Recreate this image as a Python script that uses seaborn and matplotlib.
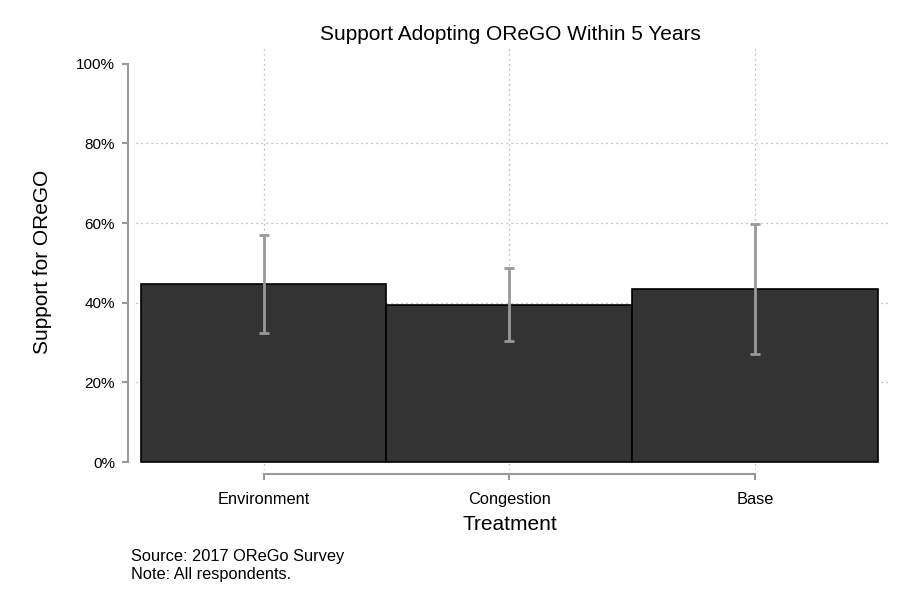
import numpy as np
import pandas as pd
import matplotlib
matplotlib.use('Agg')
import matplotlib.pyplot as plt
import seaborn as sns

treatments = ['Environment', 'Congestion', 'Base']
support = [44.7, 39.4, 43.5]
ci_low = [32.4, 30.4, 27.1]
ci_high = [57.0, 48.7, 59.8]
yticks = [0, 20, 40, 60, 80, 100]

sns.set_theme(style='white')
plt.rcParams['font.family'] = ['Liberation Sans', 'DejaVu Sans']
plt.rcParams['text.color'] = 'black'

df = pd.DataFrame({'Treatment': treatments, 'Support': support})

fig = plt.figure(figsize=(9.16, 6.10), dpi=100)
ax = fig.add_axes([0.1485, 0.2295, 0.823, 0.692])

# gridlines (no line at 0 / 100, like the original)
for y in yticks[1:-1]:
    ax.axhline(y, color='#aaaaaa', lw=0.9, ls=(0, (1, 3)), zorder=0)
for x in range(len(treatments)):
    ax.axvline(x, color='#aaaaaa', lw=0.9, ls=(0, (1, 3)), zorder=0)

sns.barplot(data=df, x='Treatment', y='Support', color='#333333', width=1.0,
            saturation=1, edgecolor='black', linewidth=1.2, errorbar=None, ax=ax, zorder=2)

err = np.array([np.array(support) - np.array(ci_low), np.array(ci_high) - np.array(support)])
ax.errorbar(range(len(treatments)), support, yerr=err, fmt='none', ecolor='#999999',
            elinewidth=2, capsize=3.5, capthick=2, zorder=3)

ax.set_xlim(-0.52, 2.55)
ax.set_ylim(-2, 104)
ax.set_yticks(yticks)
ax.set_yticklabels([f'{t}%' for t in yticks], fontsize=11.8)
ax.tick_params(axis='x', labelsize=11.8, pad=8.5)
ax.tick_params(axis='y', pad=5)
ax.tick_params(axis='both', colors='#999999', labelcolor='black', length=4, width=1.5, left=True, bottom=True)

for s in ['top', 'right']:
    ax.spines[s].set_visible(False)
ax.spines['left'].set_position(('outward', 6))
ax.spines['left'].set_bounds(0, 100)
ax.spines['bottom'].set_position(('outward', 3))
ax.spines['bottom'].set_bounds(0, 2)
for s in ['left', 'bottom']:
    ax.spines[s].set_color('#999999')
    ax.spines[s].set_linewidth(1.5)

ax.set_xlabel('')
ax.set_ylabel('')
fig.text(510 / 916, 1 - 35 / 610, 'Support Adopting OReGO Within 5 Years', fontsize=15,
         ha='center', va='center')
fig.text(510 / 916, 1 - 524 / 610, 'Treatment', fontsize=15, ha='center', va='center')
fig.text(43 / 916, 1 - 262 / 610, 'Support for OReGO', fontsize=15, rotation=90,
         ha='center', va='center')

fig.text(131 / 916, 1 - 557 / 610, 'Source: 2017 OReGo Survey', fontsize=11.8, va='center')
fig.text(131 / 916, 1 - 575 / 610, 'Note: All respondents.', fontsize=11.8, va='center')

fig.savefig('out.png', dpi=100)
